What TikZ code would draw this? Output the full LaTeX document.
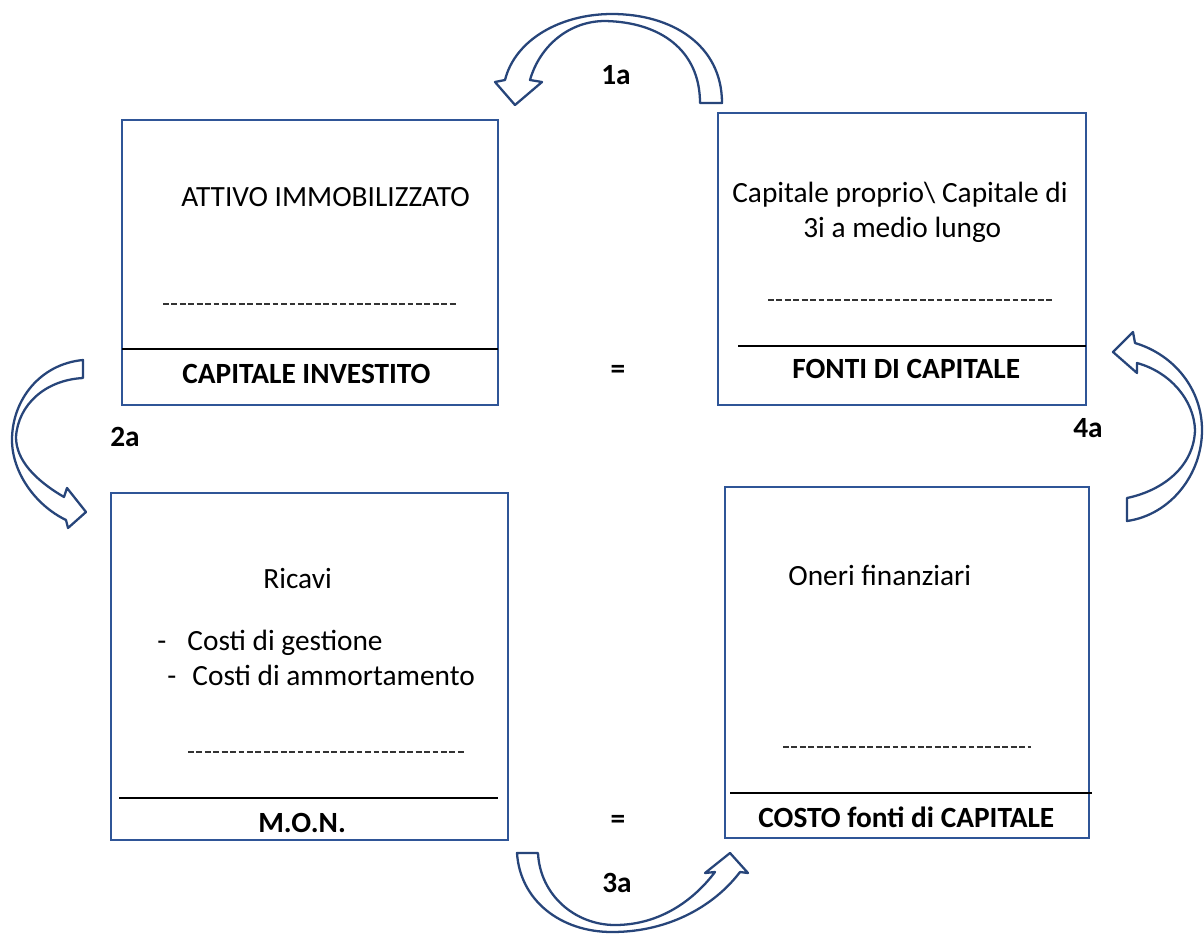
\documentclass[tikz,border=0pt]{standalone}
\usepackage{fontspec}
\setmainfont{Carlito}
\usepackage{tikz}
\usetikzlibrary{positioning,calc}
\definecolor{schemaBlue}{HTML}{2F5597}
\definecolor{schemaArrow}{HTML}{27457A}
\definecolor{schemaRule}{HTML}{333333}

\tikzset{
  panel/.style={draw=schemaBlue,line width=1.2pt},
  divider/.style={draw=black,line width=1.1pt},
  blankrule/.style={draw=schemaRule,line width=1.2pt,dash pattern=on 3.3pt off 1.5pt},
  bentarrow/.style={draw=schemaArrow,line width=1.3pt,fill=white,line join=round},
  txt/.style={anchor=base west,inner sep=0pt,font=\fontsize{16.7}{20}\selectfont},
  txtb/.style={txt,font=\fontsize{16.7}{20}\selectfont\bfseries},
  steplbl/.style={anchor=center,inner sep=0pt,font=\fontsize{16.7}{20}\selectfont\bfseries}
}

\begin{document}
\begin{tikzpicture}[x=0.02cm,y=-0.02cm]
  \useasboundingbox[fill=white] (0,0) rectangle (1204,934);

  % capitale investito
  \draw[panel] (122,120) rectangle (498,405);
  \draw[blankrule] (163,304) -- (456,304);
  \draw[divider] (122,349) -- (498,349);
  \node[txt] (attivo) at (181,206) {ATTIVO IMMOBILIZZATO};
  \node[txtb] (capinv) at (182,383) {CAPITALE INVESTITO};

  % fonti di capitale
  \draw[panel] (718,113) rectangle (1086,405);
  \draw[blankrule] (768,300) -- (1053,300);
  \draw[divider] (738,346) -- (1086,346);
  \node[txt] (proprio) at (732,202) {Capitale proprio\textbackslash{} Capitale di};
  \node[txt] (terzi) at (803,237) {3i a medio lungo};
  \node[txtb] (fonti) at (792,378) {FONTI DI CAPITALE};

  % margine operativo netto
  \draw[panel] (111,493) rectangle (508,840);
  \draw[blankrule] (188,752) -- (465,752);
  \draw[divider] (119,798) -- (498,798);
  \node[txt] (ricavi) at (263,588) {Ricavi};
  \node[txt] (gestione) at (157,650) {-\hspace{0.72em}Costi di gestione};
  \node[txt] (ammort) at (167,685) {-\hspace{0.55em}Costi di ammortamento};
  \node[txtb] (mon) at (258,832) {M.O.N.};

  % costo delle fonti
  \draw[panel] (725,487) rectangle (1089,838);
  \draw[blankrule] (783,747) -- (1031,747);
  \draw[divider] (730,793) -- (1092,793);
  \node[txt] (oneri) at (788,585) {Oneri finanziari};
  \node[txtb] (costo) at (758,827) {COSTO fonti di CAPITALE};

  \node[steplbl] (eqtop) at (618,372) {=};
  \node[steplbl] (eqbot) at (618,822) {=};

  % frecce curve
  \draw[bentarrow] (700,103) -- (722,103)
    .. controls (722,45) and (672,14) .. (612,14)
    .. controls (560,14) and (515,40) .. (505,80)
    -- (495,82) -- (515,105) -- (542,82) -- (530,80)
    .. controls (540,45) and (570,21) .. (605,21)
    .. controls (660,22) and (700,50) .. cycle;
  \draw[bentarrow] (83,378) -- (83,360)
    .. controls (40,364) and (12,400) .. (12,440)
    .. controls (12,472) and (35,505) .. (66,520)
    -- (68,528) -- (86,512) -- (67,488) -- (64,497)
    .. controls (35,480) and (16,460) .. (16,437)
    .. controls (18,405) and (45,380) .. cycle;
  \draw[bentarrow] (538,853) -- (517,853)
    .. controls (520,900) and (560,932) .. (612,932)
    .. controls (670,932) and (715,905) .. (740,872)
    -- (748,873) -- (730,853) -- (705,873) -- (715,872)
    .. controls (690,905) and (655,925) .. (615,925)
    .. controls (575,925) and (540,895) .. cycle;
  \draw[bentarrow] (1113,352) -- (1133,332) -- (1135,343)
    .. controls (1175,355) and (1202,390) .. (1202,430)
    .. controls (1202,475) and (1170,515) .. (1127,521)
    -- (1127,498)
    .. controls (1165,490) and (1194,465) .. (1195,430)
    .. controls (1194,400) and (1170,372) .. (1137,363)
    -- (1137,373) -- cycle;

  \node[steplbl] (s1) at (616,75) {1a};
  \node[steplbl] (s2) at (125,437) {2a};
  \node[steplbl] (s3) at (617,883) {3a};
  \node[steplbl] (s4) at (1088,428) {4a};
\end{tikzpicture}
\end{document}
